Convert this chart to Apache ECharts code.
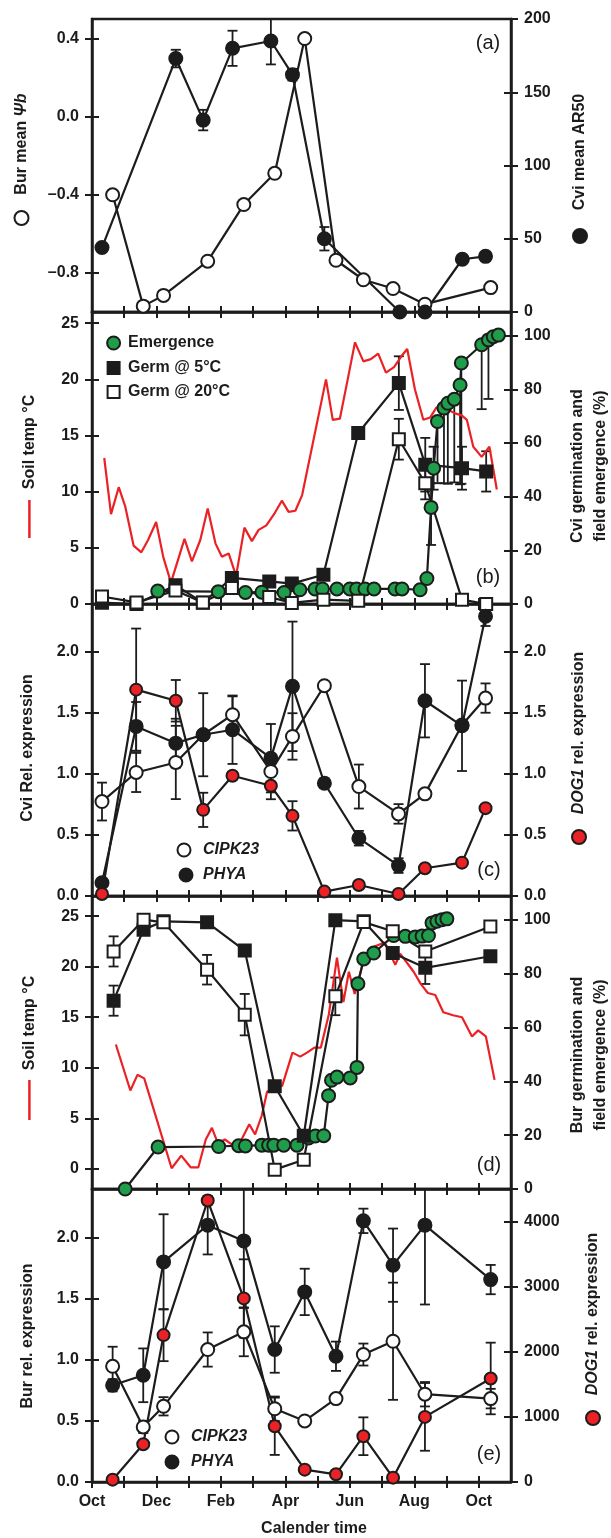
<!DOCTYPE html>
<html><head><meta charset="utf-8">
<script src="https://cdn.jsdelivr.net/npm/echarts@6/dist/echarts.min.js"></script>
<style>html,body{margin:0;padding:0;background:#fff}#c{width:611px;height:1538px}</style>
</head><body><div id="c"></div>
<script>
// ---------- shared time axis (months since 1 Oct) ----------
const monthTicks = [0,1,2,3,4,5,6,7,8,9,10,11,12];
const monthLabelPos = [0,2,4,6,8,10,12];
const monthLabels = ['Oct','Dec','Feb','Apr','Jun','Aug','Oct'];

// ---------- panel (a) ----------
const aBurX = [0.64,1.59,2.22,3.59,4.71,5.67,6.60,7.57,8.42,9.34,10.33,12.37];
const aBurPsi = [-0.40,-0.97,-0.915,-0.74,-0.45,-0.29,0.40,-0.735,-0.835,-0.88,-0.96,-0.875];
const aCviX = [0.31,2.60,3.45,4.36,5.55,6.22,7.21,9.55,10.33,11.49,12.21];
const aCviAR50 = [44,173,131,180,185,162,50,0,0,36,38];
const aCviErr = [3,6,7,12,16,4,8,0,0,0,0];
const aLeftTicks = [-0.8,-0.4,0,0.4];
const aRightTicks = [0,50,100,150,200];

// ---------- panel (b) ----------
const bTempX = [0.38,0.59,0.83,1.03,1.29,1.53,1.74,1.99,2.21,2.45,2.87,3.10,3.36,3.59,3.83,4.03,4.24,4.47,4.73,4.96,5.17,5.41,5.67,5.89,6.10,6.31,6.52,7.26,7.47,7.69,7.92,8.16,8.42,8.65,8.88,9.12,9.37,9.61,9.78,10.02,10.28,10.49,10.69,11.00,11.24,11.47,11.63,11.83,12.09,12.33,12.56];
const bTemp = [13.0,8.0,10.4,8.7,5.2,4.6,5.7,7.3,4.2,1.9,5.8,3.8,5.7,8.5,5.4,4.2,4.5,2.5,6.8,5.6,6.6,7.0,8.1,9.2,8.2,8.3,9.7,20.0,16.4,16.5,19.8,23.3,21.6,21.8,22.3,20.6,21.1,22.1,22.7,19.1,16.4,16.6,17.5,17.4,17.0,16.8,16.4,14.0,13.1,14.0,10.2];
const bGermX = [0.31,1.38,2.59,3.44,4.34,5.50,6.20,7.18,8.26,9.52,10.34,11.48,12.23];
const bGerm5 = [0.5,0,7,0.5,9.7,8.4,7.6,10.9,63.7,82.3,51.9,50.6,49.4];
const bGerm5Err = [0,0,0,0,0,0,0,0,0,10,10,8,7.5];
const bGerm20 = [2.8,0.6,5.0,0.6,6.0,2.6,0.4,1.6,1.2,61.4,45,1.6,0];
const bGerm20Err = [0,0,0,0,0,0,0,0,0,7.6,6,0,0];
const bEmX = [2.04,3.92,4.76,5.27,5.96,6.45,6.92,7.15,7.60,8.00,8.21,8.47,8.75,9.40,9.62,10.18,10.39,10.52,10.60,10.72,10.92,11.04,11.24,11.42,11.46,12.09,12.30,12.45,12.61];
const bEm = [4.8,4.6,4.3,4.4,4.3,5.3,5.6,5.6,5.6,5.6,5.6,5.6,5.6,5.6,5.6,5.3,9.5,36,50.6,68,73,74.8,76.3,81.6,89.8,96.6,98.4,99.6,100.2];
const bEmErrLo = [0,0,0,0,0,0,0,0,0,0,0,0,0,0,0,0,0,14,8,23,28,30,31,37,45,24,22,0,0];
const bEmErrHi = [0,0,0,0,0,0,0,0,0,0,0,0,0,0,0,0,0,9,8,0,0,0,0,0,0,0,0,0,0];
const tempTicks = [0,5,10,15,20,25];
const pctTicks = [0,20,40,60,80,100];

// ---------- panel (c) ----------
const cX = [0.31,1.37,2.60,3.45,4.36,5.55,6.22,7.21,8.28,9.51,10.33,11.48,12.21];
const cCipk = [0.773,1.011,1.093,1.32,1.484,1.019,1.306,1.721,0.896,0.672,0.836,1.40,1.62];
const cCipkErr = [0.155,0.16,0.3,0,0.15,0,0.19,0,0.18,0.08,0,0,0.12];
const cPhya = [0.109,1.388,1.251,1.32,1.361,1.128,1.716,0.923,0.473,0.249,1.598,1.393,2.29];
const cPhyaErr = [0,0.2,0.2,0.34,0.28,0.28,0.53,0.04,0.06,0.06,0.3,0.37,0.08];
const cDog = [0.016,1.689,1.598,0.705,0.984,0.902,0.656,0.036,0.09,0.016,0.227,0.273,0.719];
const cDogErr = [0,0.5,0.17,0.14,0,0.11,0.12,0,0,0,0,0,0];
const exprTicks = [0,0.5,1,1.5,2];

// ---------- panel (d) ----------
const dTempX = [0.74,1.19,1.41,1.62,2.47,2.77,3.06,3.30,3.53,3.72,3.91,4.12,4.35,4.64,4.88,5.06,5.27,5.43,5.65,5.90,6.22,6.46,6.67,6.90,7.10,7.35,7.60,7.80,7.97,8.15,8.40,8.76,9.08,9.41,9.56,9.98,10.20,10.42,10.65,10.90,11.20,11.48,11.79,11.98,12.22,12.49];
const dTemp = [12.3,7.75,9.3,8.95,0.05,1.3,0.15,0.15,2.9,4.05,2.5,2.9,2.4,2.9,4.4,3.4,5.3,7.6,8.1,8.2,11.5,11.1,11.5,12.0,12.0,15.3,20.9,16.5,19.5,17.3,20.3,22.0,22.4,20.2,21.3,19.5,18.3,17.4,17.2,15.5,15.2,15.0,13.1,13.7,13.1,8.8];
const dGermX = [0.67,1.60,2.22,3.57,4.74,5.67,6.57,7.55,8.43,9.33,10.34,12.36];
const dGerm5 = [70.0,96.4,99.5,99.1,88.6,38.2,19.8,99.9,99.5,87.7,82.2,86.5];
const dGerm5Err = [5.6,0,0,0,0,0,0,0,0,0,6,0];
const dGerm20 = [88.3,100.1,99.1,81.5,64.8,7.2,10.9,71.6,99.2,95.8,88.3,97.6];
const dGerm20Err = [5.6,0,0,5.5,7.7,0,0,7,0,0,0,0];
const dEmX = [1.03,2.05,3.93,4.55,4.76,5.27,5.48,5.64,5.95,6.36,6.72,6.93,7.19,7.34,7.43,7.60,8.01,8.22,8.25,8.43,8.74,9.36,9.72,10.03,10.24,10.44,10.55,10.70,10.86,11.01];
const dEm = [0,15.6,15.8,16.1,16,16.3,16.3,16.3,16.3,16.3,19,19.7,19.8,34.7,40.4,41.6,41.3,45.2,76.3,85.5,87.7,94.2,93.9,93.7,94,94.2,98.9,99.5,100.1,100.4];

// ---------- panel (e) ----------
const eX = [0.64,1.59,2.22,3.59,4.71,5.67,6.60,7.57,8.42,9.34,10.33,12.37];
const eCipk = [0.948,0.451,0.62,1.085,1.23,0.60,0.50,0.683,1.044,1.153,0.719,0.683];
const eCipkErr = [0.16,0.05,0.075,0.14,0.2,0.1,0.03,0.03,0.09,0.48,0.1,0.08];
const ePhya = [0.792,0.874,1.803,2.104,1.975,1.085,1.557,1.03,2.139,1.776,2.104,1.658];
const ePhyaErr = [0.05,0.22,0.39,0.24,0.55,0.19,0.19,0.12,0.1,0.3,0.65,0.12];
const eDog = [36,580,2256,4323,2820,856,190,118,703,67,1000,1590];
const eDogErr = [0,0,400,0,600,440,0,0,290,0,520,550];
const eDogTicks = [0,1000,2000,3000,4000];

// ---------- styling / layout ----------
const FONT = "'Liberation Sans', Arial, Helvetica, sans-serif";
const INK = '#1c1c1c';
const GREEN = '#1f9d4b';
const RED = '#ea2226';
const GRIDS = [[19,293],[312,292],[604,292],[896,293],[1189,293]];
const GL = 92, GW = 419;

function fmt1(v){ return (v < -1e-9 ? '\u2013' : '') + Math.abs(v).toFixed(1); }
function fmt0(v){ return String(Math.round(v)); }

function xAx(g, inner, labels){
  return {type:'value', gridIndex:g, position:'bottom', min:0, max:13,
    axisLine:{show:!inner, onZero:false, lineStyle:{color:INK, width:2.5}},
    axisTick:{show:true, inside:!!inner, length:6, customValues:monthTicks, lineStyle:{color:INK, width:2}},
    axisLabel:{show:!!labels && !inner, customValues:monthLabelPos,
      formatter:(v)=>monthLabels[monthLabelPos.indexOf(Math.round(v))],
      margin:12, color:INK, fontFamily:FONT, fontWeight:'bold', fontSize:16},
    splitLine:{show:false}};
}
function yAx(g, side, min, max, ticks, fmt, inner){
  return {type:'value', gridIndex:g, position:side, min, max,
    axisLine:{show:!inner, onZero:false, lineStyle:{color:INK, width:2.5}},
    axisTick:{show:true, inside:!!inner, length:7, customValues:ticks, lineStyle:{color:INK, width:2}},
    axisLabel:{show:!inner, customValues:ticks, formatter:fmt, margin:13, color:INK, fontFamily:FONT, fontWeight:'bold', fontSize:16},
    splitLine:{show:false}};
}

const grid = GRIDS.map(([t,h]) => ({left:GL, top:t, width:GW, height:h, show:true, borderColor:INK, borderWidth:2.5, backgroundColor:'transparent'}));
const xAxis = [];
GRIDS.forEach((_, g) => { xAxis.push(xAx(g, false, g === 4)); xAxis.push(xAx(g, true, false)); });
const yCfg = [
  [-1.0, 0.5, aLeftTicks, fmt1, 0, 200, aRightTicks, fmt0],
  [0, 26, tempTicks, fmt0, 0, 108.8, pctTicks, fmt0],
  [0, 2.39, exprTicks, fmt1, 0, 2.39, exprTicks, fmt1],
  [-2, 27, tempTicks, fmt0, 0, 108.9, pctTicks, fmt0],
  [0, 2.4, exprTicks, fmt1, 0, 4500, eDogTicks, fmt0]
];
const yAxis = [];
yCfg.forEach((c, g) => {
  yAxis.push(yAx(g, 'left', c[0], c[1], c[2], c[3], false));
  yAxis.push(yAx(g, 'left', c[0], c[1], c[2], c[3], true));
  yAxis.push(yAx(g, 'right', c[4], c[5], c[6], c[7], false));
  yAxis.push(yAx(g, 'right', c[4], c[5], c[6], c[7], true));
});

function pts(xs, ys){ return xs.map((x, i) => [x, ys[i]]); }
function errs(xs, ys, lo, hi){
  const out = [];
  xs.forEach((x, i) => {
    const l = lo[i] || 0, h = (hi ? hi[i] : lo[i]) || 0;
    if (l > 0 || h > 0) out.push([x, ys[i] - l, ys[i] + h]);
  });
  return out;
}
function errRender(params, api){
  const x = api.value(0), lo = api.value(1), hi = api.value(2);
  const p1 = api.coord([x, lo]), p2 = api.coord([x, hi]);
  const w = 5;
  const st = {stroke:INK, lineWidth:1.8};
  return {type:'group', children:[
    {type:'line', shape:{x1:p1[0], y1:p1[1], x2:p2[0], y2:p2[1]}, style:st},
    {type:'line', shape:{x1:p1[0]-w, y1:p1[1], x2:p1[0]+w, y2:p1[1]}, style:st},
    {type:'line', shape:{x1:p2[0]-w, y1:p2[1], x2:p2[0]+w, y2:p2[1]}, style:st}
  ]};
}
function lineS(g, yi, data, symbol, fill, size){
  return {type:'line', xAxisIndex:2*g, yAxisIndex:4*g+yi, data, symbol, symbolSize:size, showSymbol:true,
    lineStyle:{color:INK, width:2.2}, itemStyle:{color:fill, borderColor:INK, borderWidth:2}, silent:true, animation:false};
}
function errS(g, yi, data){
  return {type:'custom', xAxisIndex:2*g, yAxisIndex:4*g+yi, data, renderItem:errRender, clip:true, silent:true, animation:false};
}
function tempS(g, xs, ys){
  return {type:'line', xAxisIndex:2*g, yAxisIndex:4*g, data:pts(xs, ys), symbol:'none',
    lineStyle:{color:RED, width:2.2}, silent:true, animation:false};
}

const series = [
  // (a)
  errS(0, 2, errs(aCviX, aCviAR50, aCviErr)),
  lineS(0, 0, pts(aBurX, aBurPsi), 'circle', '#fff', 13),
  lineS(0, 2, pts(aCviX, aCviAR50), 'circle', INK, 13),
  // (b)
  tempS(1, bTempX, bTemp),
  errS(1, 2, errs(bGermX, bGerm5, bGerm5Err)),
  errS(1, 2, errs(bGermX, bGerm20, bGerm20Err)),
  errS(1, 2, errs(bEmX, bEm, bEmErrLo, bEmErrHi)),
  lineS(1, 2, pts(bGermX, bGerm5), 'rect', INK, 12),
  lineS(1, 2, pts(bEmX, bEm), 'circle', GREEN, 13),
  lineS(1, 2, pts(bGermX, bGerm20), 'rect', '#fff', 12),
  // (c)
  errS(2, 0, errs(cX, cCipk, cCipkErr)),
  errS(2, 0, errs(cX, cPhya, cPhyaErr)),
  errS(2, 2, errs(cX, cDog, cDogErr)),
  lineS(2, 0, pts(cX, cCipk), 'circle', '#fff', 13),
  lineS(2, 0, pts(cX, cPhya), 'circle', INK, 13),
  lineS(2, 2, pts(cX, cDog), 'circle', RED, 12),
  // (d)
  tempS(3, dTempX, dTemp),
  errS(3, 2, errs(dGermX, dGerm5, dGerm5Err)),
  errS(3, 2, errs(dGermX, dGerm20, dGerm20Err)),
  lineS(3, 2, pts(dEmX, dEm), 'circle', GREEN, 13),
  lineS(3, 2, pts(dGermX, dGerm5), 'rect', INK, 12),
  lineS(3, 2, pts(dGermX, dGerm20), 'rect', '#fff', 12),
  // (e)
  errS(4, 0, errs(eX, eCipk, eCipkErr)),
  errS(4, 0, errs(eX, ePhya, ePhyaErr)),
  errS(4, 2, errs(eX, eDog, eDogErr)),
  lineS(4, 0, pts(eX, eCipk), 'circle', '#fff', 13),
  lineS(4, 0, pts(eX, ePhya), 'circle', INK, 13),
  lineS(4, 2, pts(eX, eDog), 'circle', RED, 12)
];

// ---------- text and legend graphics ----------
const B16 = `bold 16px ${FONT}`, BI16 = `italic bold 16px ${FONT}`;
function vtext(x, y, text, extra){
  return Object.assign({type:'text', x, y, rotation:Math.PI/2, z:100,
    style:{text, font:B16, fill:INK, align:'center', verticalAlign:'middle', textAlign:'center', textVerticalAlign:'middle', lineHeight:23,
      rich:{n:{font:B16, fill:INK}, i:{font:BI16, fill:INK}}}}, extra || {});
}
function htext(x, y, text, font, align){
  return {type:'text', x, y, z:100, style:{text, font:font || B16, fill:INK, align:align || 'left', verticalAlign:'middle', textAlign:align || 'left', textVerticalAlign:'middle'}};
}
function circ(cx, cy, fill, r){ return {type:'circle', z:100, shape:{cx, cy, r:r || 6.5}, style:{fill, stroke:INK, lineWidth:2}}; }
function sq(cx, cy, fill){ return {type:'rect', z:100, shape:{x:cx-6, y:cy-6, width:12, height:12}, style:{fill, stroke:INK, lineWidth:2}}; }
function redBar(x, y1, y2){ return {type:'line', z:100, shape:{x1:x, y1, x2:x, y2}, style:{stroke:RED, lineWidth:2.5}}; }
const PL = `20px ${FONT}`;

const graphic = [
  // panel letters
  htext(488, 43, '(a)', PL, 'center'),
  htext(488, 577, '(b)', PL, 'center'),
  htext(489, 870, '(c)', PL, 'center'),
  htext(489, 1165, '(d)', PL, 'center'),
  htext(489, 1454, '(e)', PL, 'center'),
  // (a) titles
  vtext(21.5, 144, '{n|Bur mean }{i|\u03A8b}'),
  circ(21.5, 218, '#fff', 7),
  vtext(580, 152, 'Cvi mean AR50'),
  circ(580, 236, INK, 7),
  // (b)
  vtext(29.4, 442, 'Soil temp \u00B0C'),
  redBar(29.4, 500, 538),
  vtext(589, 466, 'Cvi germination and\nfield emergence (%)'),
  circ(113.6, 343, GREEN), htext(128, 343, 'Emergence'),
  sq(113.6, 368, INK), htext(128, 368, 'Germ @ 5\u00B0C'),
  sq(113.6, 392, '#fff'), htext(128, 392, 'Germ @ 20\u00B0C'),
  // (c)
  vtext(27.4, 748, 'Cvi Rel. expression'),
  vtext(579, 733, '{i|DOG1}{n| rel. expression}'),
  circ(579, 837, RED, 7),
  circ(184, 850, '#fff'), htext(203, 850, 'CIPK23', BI16),
  circ(186, 875, INK), htext(203, 875, 'PHYA', BI16),
  // (d)
  vtext(29.4, 1023, 'Soil temp \u00B0C'),
  redBar(29.4, 1080, 1120),
  vtext(589, 1055, 'Bur germination and\nfield emergence (%)'),
  // (e)
  vtext(27.4, 1336, 'Bur rel. expression'),
  vtext(593, 1314, '{i|DOG1}{n| rel. expression}'),
  circ(593, 1418, RED, 7),
  circ(172, 1437, '#fff'), htext(191, 1437, 'CIPK23', BI16),
  circ(172, 1462, INK), htext(191, 1462, 'PHYA', BI16),
  // x title
  htext(314, 1529, 'Calender time', B16, 'center')
];

const chart = echarts.init(document.getElementById('c'), null, {renderer:'canvas'});
chart.setOption({animation:false, backgroundColor:'#fff', grid, xAxis, yAxis, series, graphic});
</script>
</body></html>
